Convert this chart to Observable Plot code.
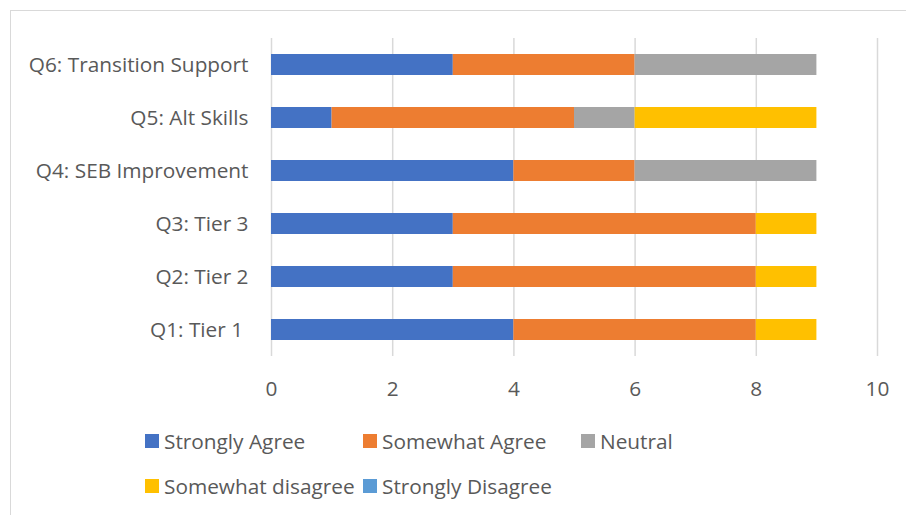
<!DOCTYPE html>
<html>
<head>
<meta charset="utf-8">
<script src="https://cdn.jsdelivr.net/npm/d3@7"></script>
<script src="https://cdn.jsdelivr.net/npm/@observablehq/plot@0.6"></script>
<style>
  html, body { margin: 0; padding: 0; background: #fff; }
  #wrap { position: relative; width: 906px; height: 515px; overflow: hidden; font-family: "Open Sans", Lato, sans-serif; color: #595959; }
  #frame { position: absolute; left: 10px; top: 10px; width: 1000px; height: 1000px; border: 1px solid #d9d9d9; box-sizing: border-box; }
  #chart { position: absolute; left: 0; top: 0; }
  .leg { position: absolute; display: flex; align-items: center; font-size: 20.8px; white-space: nowrap; }
  .sw { width: 14px; height: 14px; margin-right: 5px; }
</style>
</head>
<body>
<div id="wrap">
  <div id="frame"></div>
  <div id="chart"></div>
  <div id="legend"></div>
</div>
<script>
const questions = ["Q6: Transition Support", "Q5: Alt Skills", "Q4: SEB Improvement", "Q3: Tier 3", "Q2: Tier 2", "Q1: Tier 1\u00a0"];
const seriesNames = ["Strongly Agree", "Somewhat Agree", "Neutral", "Somewhat disagree", "Strongly Disagree"];
const seriesColors = ["#4472C4", "#ED7D31", "#A5A5A5", "#FFC000", "#5B9BD5"];
const stronglyAgree    = [3, 1, 4, 3, 3, 4];
const somewhatAgree    = [3, 4, 2, 5, 5, 4];
const neutral          = [3, 1, 3, 0, 0, 0];
const somewhatDisagree = [0, 3, 0, 1, 1, 1];
const stronglyDisagree = [0, 0, 0, 0, 0, 0];
const xTicks = [0, 2, 4, 6, 8, 10];

const seriesValues = [stronglyAgree, somewhatAgree, neutral, somewhatDisagree, stronglyDisagree];
const rows = [];
seriesNames.forEach((s, si) => {
  questions.forEach((q, qi) => rows.push({question: q, series: s, value: seriesValues[si][qi]}));
});

const chart = Plot.plot({
  width: 906,
  height: 410,
  marginTop: 38,
  marginBottom: 54,
  marginLeft: 271,
  marginRight: 29,
  style: {fontFamily: "'Open Sans', Lato, sans-serif", fontSize: "20.8px", color: "#595959", background: "transparent"},
  x: {domain: [0, 10], ticks: xTicks, label: null},
  y: {domain: questions, paddingInner: 0.6, paddingOuter: 0.3, label: null},
  color: {domain: seriesNames, range: seriesColors},
  marks: [
    Plot.gridX(xTicks, {stroke: "#d9d9d9", strokeOpacity: 1, strokeWidth: 1.5}),
    Plot.barX(rows, Plot.stackX({x: "value", y: "question", fill: "series", order: seriesNames})),
    Plot.axisX(xTicks, {tickSize: 0, tickPadding: 25, fontSize: 20.8, fill: "#595959", label: null}),
    Plot.axisY({tickSize: 0, tickPadding: 23, fontSize: 20.8, fill: "#595959", label: null})
  ]
});
document.getElementById("chart").appendChild(chart);

const legendPos = [[145, 441], [363, 441], [581, 441], [145, 486], [363, 486]];
const legend = document.getElementById("legend");
seriesNames.forEach((s, i) => {
  const d = document.createElement("div");
  d.className = "leg";
  d.style.left = legendPos[i][0] + "px";
  d.style.top = (legendPos[i][1] - 12) + "px";
  d.style.height = "24px";
  const sw = document.createElement("span");
  sw.className = "sw";
  sw.style.background = seriesColors[i];
  const t = document.createElement("span");
  t.textContent = s;
  d.appendChild(sw);
  d.appendChild(t);
  legend.appendChild(d);
});
</script>
</body>
</html>
